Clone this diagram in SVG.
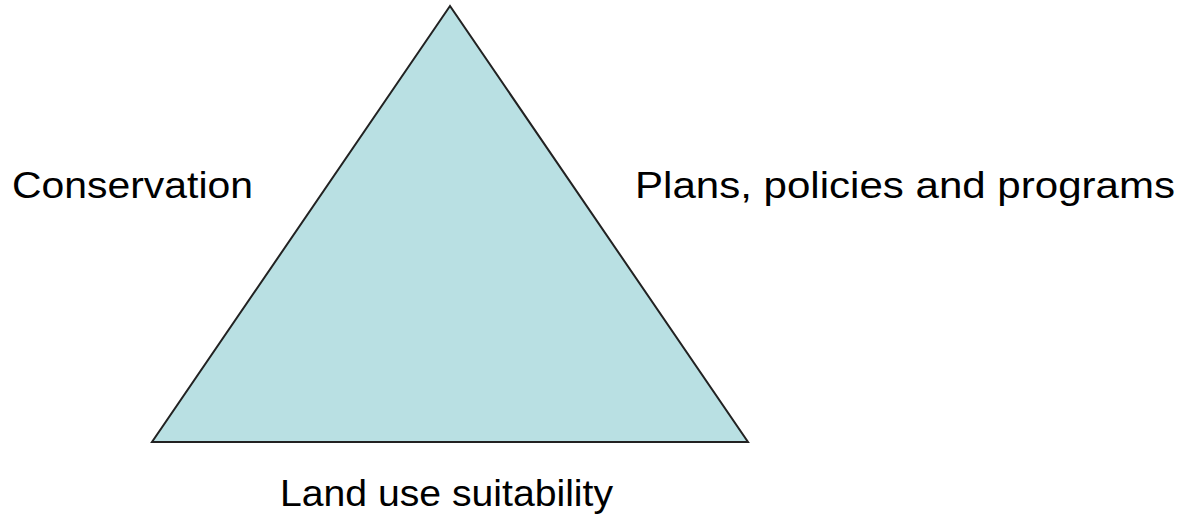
<svg xmlns="http://www.w3.org/2000/svg" width="1191" height="517" viewBox="0 0 1191 517">
<style>
.lbl{font-family:"Liberation Sans",Arial,sans-serif;font-size:37px;fill:#000}
.tri{fill:#B9E0E3;stroke:#222;stroke-width:2;stroke-linejoin:miter}
</style>
<rect width="1191" height="517" fill="#fff"/>
<g id="triangle">
<polygon class="tri" points="450,6 152,442 748,442"/>
</g>
<g id="conservation">
<text class="lbl" x="12" y="198" textLength="241" lengthAdjust="spacingAndGlyphs">Conservation</text>
</g>
<g id="plans">
<text class="lbl" x="635" y="198" textLength="540" lengthAdjust="spacingAndGlyphs">Plans, policies and programs</text>
</g>
<g id="landuse">
<text class="lbl" x="280" y="506" textLength="333" lengthAdjust="spacingAndGlyphs">Land use suitability</text>
</g>
<g id="connectors"></g>
</svg>
